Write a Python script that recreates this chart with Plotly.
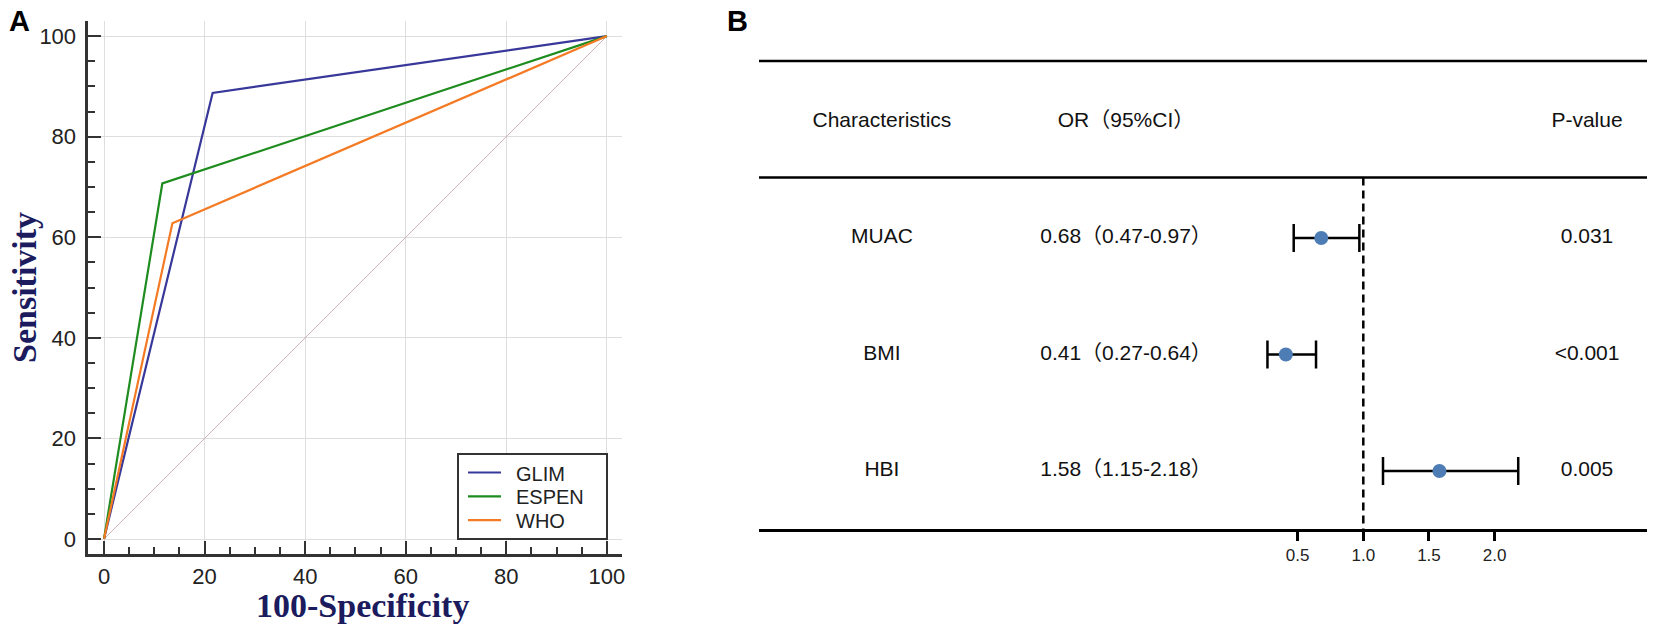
import plotly.graph_objects as go

# ---------------- data ----------------
roc_names = ["GLIM", "ESPEN", "WHO"]
roc_fpr = [[0, 21.6, 100], [0, 11.6, 100], [0, 13.6, 100]]   # 100-Specificity
roc_tpr = [[0, 88.7, 100], [0, 70.7, 100], [0, 62.8, 100]]   # Sensitivity
roc_colors = ["#38389a", "#1e8c1e", "#f47a24"]
diag_x = [0, 100]
diag_y = [0, 100]
roc_ticks = [0, 20, 40, 60, 80, 100]

chars = ["MUAC", "BMI", "HBI"]
or_val = [0.68, 0.41, 1.58]
ci_lo = [0.47, 0.27, 1.15]
ci_hi = [0.97, 0.64, 2.18]
p_vals = ["0.031", "<0.001", "0.005"]
row_pos = [3, 2, 1]
header_labels = ["Characteristics", "OR（95%CI）", "P-value"]
forest_ticks = [0.5, 1.0, 1.5, 2.0]
forest_ticktext = ["0.5", "1.0", "1.5", "2.0"]

# ---------------- layout constants ----------------
W, H = 1654, 634
def px(xp):
    return xp / W
def py(yp):
    return 1 - yp / H

SANS = "Arial, Liberation Sans, Noto Sans CJK SC, sans-serif"
SERIF = "Times New Roman, Liberation Serif, serif"
TITLE_COL = "#1b1b5e"

fig = go.Figure()

# ---- Panel A: ROC ----
fig.add_trace(go.Scatter(x=diag_x, y=diag_y, mode="lines",
                         line=dict(color="#cbb5b5", width=1),
                         showlegend=False, hoverinfo="skip",
                         xaxis="x", yaxis="y"))
for name, fx, ty, col in zip(roc_names, roc_fpr, roc_tpr, roc_colors):
    fig.add_trace(go.Scatter(x=fx, y=ty, mode="lines", name=name,
                             line=dict(color=col, width=2.2),
                             showlegend=False, xaxis="x", yaxis="y"))

# legend box (drawn to match the reference's boxed legend)
LEG_L, LEG_R, LEG_T, LEG_B = 458, 607, 454, 539
LEG_ROW0, LEG_ROW_STEP = 472.5, 23.8
fig.add_shape(type="rect", xref="paper", yref="paper",
              x0=px(LEG_L), x1=px(LEG_R), y0=py(LEG_B), y1=py(LEG_T),
              line=dict(color="#333", width=2), fillcolor="white", layer="above")
for i, (name, col) in enumerate(zip(roc_names, roc_colors)):
    yy = LEG_ROW0 + i * LEG_ROW_STEP
    fig.add_shape(type="line", xref="paper", yref="paper",
                  x0=px(468), x1=px(501), y0=py(yy), y1=py(yy),
                  line=dict(color=col, width=2.2), layer="above")
    fig.add_annotation(xref="paper", yref="paper", x=px(514), y=py(yy + 1),
                       text=name, showarrow=False, xanchor="left", yanchor="middle",
                       font=dict(family=SANS, size=20, color="#222"))

# ---- Panel B: forest ----
err_plus = [h - o for h, o in zip(ci_hi, or_val)]
err_minus = [o - l for o, l in zip(or_val, ci_lo)]
fig.add_trace(go.Scatter(
    x=or_val, y=row_pos, mode="markers",
    marker=dict(color="#4e7db5", size=14),
    error_x=dict(type="data", symmetric=False, array=err_plus,
                 arrayminus=err_minus, color="black", thickness=2.5, width=14),
    showlegend=False, xaxis="x2", yaxis="y2"))

COL_CHAR, COL_OR, COL_P = -2.666, -0.807, 2.704
HEADER_Y = 4
or_text = [f"{o:.2f}（{l:.2f}-{h:.2f}）" for o, l, h in zip(or_val, ci_lo, ci_hi)]
fig.add_trace(go.Scatter(
    x=[COL_CHAR, COL_OR, COL_P], y=[HEADER_Y] * 3, mode="text",
    text=header_labels, textfont=dict(family=SANS, size=21, color="#111"),
    showlegend=False, hoverinfo="skip", xaxis="x2", yaxis="y2"))
for colx, texts in [(COL_CHAR, chars), (COL_OR, or_text), (COL_P, p_vals)]:
    fig.add_trace(go.Scatter(
        x=[colx] * len(texts), y=row_pos, mode="text", text=texts,
        textfont=dict(family=SANS, size=21, color="#111"),
        showlegend=False, hoverinfo="skip", xaxis="x2", yaxis="y2"))

# table lines
for yv in [4.52, 3.52]:
    fig.add_shape(type="line", xref="x2 domain", yref="y2", x0=0, x1=1,
                  y0=yv, y1=yv, line=dict(color="black", width=2.5))
fig.add_shape(type="line", xref="x2", yref="y2", x0=1, x1=1, y0=3.52, y1=0.5,
              line=dict(color="black", width=2.5, dash="8px,5px"))

x2_left, x2_right, x2_zero, x2_unit = 759, 1647, 1232, 131.3
y2_bottom, y2_unit = 529.3, 116.5
y2_top_val = 4.7
y2_top_px = y2_bottom - (y2_top_val - 0.5) * y2_unit

fig.update_layout(
    width=W, height=H,
    margin=dict(l=0, r=0, t=0, b=0),
    paper_bgcolor="white", plot_bgcolor="white",
    font=dict(family=SANS, color="#222"),
    showlegend=False,
    xaxis=dict(domain=[px(87.5), px(622)], range=[-3.28, 103.0],
               tickvals=roc_ticks, showgrid=True, gridcolor="#dedede", gridwidth=1,
               zeroline=False, showline=True, linecolor="#333", linewidth=3,
               ticks="inside", ticklen=13, tickwidth=2, tickcolor="#333",
               minor=dict(dtick=5, ticks="inside", ticklen=7, tickwidth=2,
                          tickcolor="#333", showgrid=False),
               tickfont=dict(family=SANS, size=22, color="#222"),
               ticklabelstandoff=1, anchor="y", automargin=False),
    yaxis=dict(domain=[py(554), py(20.5)], range=[-2.98, 103.1],
               tickvals=roc_ticks, showgrid=True, gridcolor="#dedede", gridwidth=1,
               zeroline=False, showline=True, linecolor="#333", linewidth=3,
               ticks="inside", ticklen=13, tickwidth=2, tickcolor="#333",
               minor=dict(dtick=5, ticks="inside", ticklen=7, tickwidth=2,
                          tickcolor="#333", showgrid=False),
               tickfont=dict(family=SANS, size=22, color="#222"),
               ticklabelstandoff=4, anchor="x", automargin=False),
    xaxis2=dict(domain=[px(x2_left), px(x2_right)],
                range=[(x2_left - x2_zero) / x2_unit, (x2_right - x2_zero) / x2_unit],
                tickvals=forest_ticks, ticktext=forest_ticktext,
                showgrid=False, zeroline=False, showline=True,
                linecolor="black", linewidth=2.5,
                ticks="outside", ticklen=9, tickwidth=2.5, tickcolor="black",
                tickfont=dict(family=SANS, size=17, color="#222"),
                anchor="y2", automargin=False),
    yaxis2=dict(domain=[py(y2_bottom), py(y2_top_px)], range=[0.5, y2_top_val],
                visible=False, anchor="x2", automargin=False),
)

annos = [
    dict(text="<b>A</b>", x=px(19), y=py(21), font=dict(family=SANS, size=29, color="black")),
    dict(text="<b>B</b>", x=px(737), y=py(21), font=dict(family=SANS, size=29, color="black")),
    dict(text="<b>Sensitivity</b>", x=px(24), y=py(288), textangle=-90,
         font=dict(family=SERIF, size=34, color=TITLE_COL)),
    dict(text="<b>100-Specificity</b>", x=px(362), y=py(605),
         font=dict(family=SERIF, size=34, color=TITLE_COL)),
]
for a in annos:
    fig.add_annotation(xref="paper", yref="paper", showarrow=False,
                       xanchor="center", yanchor="middle", **a)

fig.write_html("out.html", config={"displayModeBar": False},
               post_script="document.body.style.margin='0px';document.body.style.padding='0px';")
